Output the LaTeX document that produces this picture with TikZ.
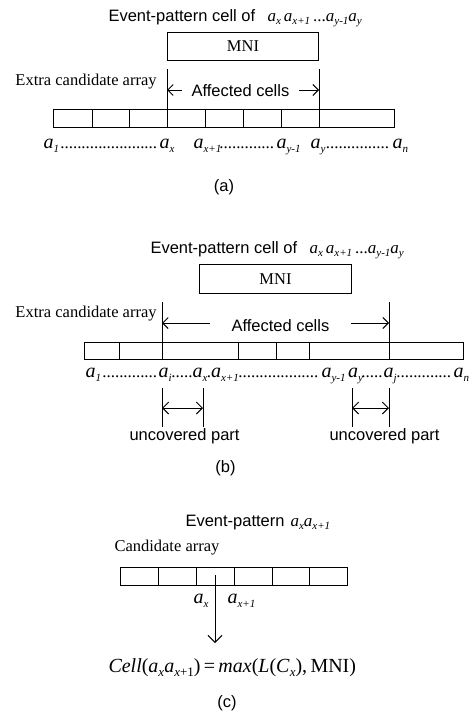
\documentclass[tikz,border=0pt]{standalone}
\usepackage{fontspec}
\setmainfont{Liberation Serif}
\newfontfamily\arialf{Liberation Sans}
\usetikzlibrary{arrows.meta}
\newcommand{\sbs}[1]{\raisebox{-3.5pt}{\fontsize{11}{11}\selectfont\itshape #1}}
\newcommand{\As}[1]{{\itshape a}\sbs{#1}}
\newcommand{\sbb}[1]{\raisebox{-4pt}{\fontsize{11}{11}\selectfont\itshape #1}}
\newcommand{\Ab}[1]{{\itshape a}\sbb{#1}}
\newcommand{\fsb}[1]{\raisebox{-4pt}{\fontsize{13}{13}\selectfont #1}}
\newcommand{\dd}[1]{{\fontsize{17}{20}\selectfont\hbox to #1pt{\leaders\hbox to 4.2pt{\hss.\hss}\hfill}}}
\tikzset{
  lab/.style={anchor=base west, inner sep=0pt, font=\fontsize{17}{20}\selectfont},
  big/.style={anchor=base west, inner sep=0pt, font=\fontsize{20}{24}\selectfont},
  serif/.style={anchor=base west, inner sep=0pt, font=\fontsize{16.5}{20}\selectfont},
  sans/.style={anchor=base west, inner sep=0pt, font=\fontsize{16.5}{20}\selectfont\arialf},
  capt/.style={anchor=base, inner sep=0pt, font=\fontsize{16.5}{20}\selectfont\arialf},
  mnibox/.style={draw, inner sep=0pt, anchor=north west, font=\fontsize{16.5}{20}\selectfont},
  arr/.style={-{Straight Barb[length=5.5pt,width=11pt]}},
  darr/.style={{Straight Barb[length=6pt,width=12pt]}-{Straight Barb[length=6pt,width=12pt]}},
  carr/.style={-{Straight Barb[length=7pt,width=14pt]}},
}
\begin{document}
\begin{tikzpicture}[x=1pt,y=-1pt,line width=1pt]
\useasboundingbox[fill=white] (0,0) rectangle (471,712);

% ---------------- (a) ----------------
\node[sans] (ta) at (108,21) {Event-pattern cell of};
\node[lab] (tax) at (267,21) {\As{x}\hspace{3pt}\As{x+1}\hspace{3pt}...\As{y-1}\As{y}};
\node[mnibox, minimum width=151pt, minimum height=28pt] (mnia) at (167,32) {MNI};
\node[serif] (eca) at (15,85) {Extra candidate array};
\coordinate (la1) at (167,69); \coordinate (la2) at (167,109);
\coordinate (ra1) at (319,69); \coordinate (ra2) at (319,109);
\draw (la1) -- (la2);
\draw (ra1) -- (ra2);
\node[sans] (afa) at (191,96) {Affected cells};
\coordinate (ala) at (182,90); \coordinate (ara) at (299,90);
\draw[arr] (ala) -- (la1 |- ala);
\draw[arr] (ara) -- (ra1 |- ara);
\draw (53,109) rectangle (394,127);
\foreach \x in {92,129,167,205,243,281,319} \draw (\x,109) -- (\x,127);
\node[big] (a1a) at (43,148) {\Ab{1}};
\node[big] (d1a) at (60,148) {\dd{98}};
\node[big] (axa) at (159,148) {\Ab{x}};
\node[big] (ax1a) at (193,148) {\Ab{x+1}};
\node[big] (d2a) at (219,148) {\dd{56}};
\node[big] (ay1a) at (276,148) {\Ab{y-1}};
\node[big] (aya) at (310,148) {\Ab{y}};
\node[big] (d3a) at (325.5,148) {\dd{66}};
\node[big] (ana) at (392,148) {\Ab{n}};
\node[capt] (capa) at (224,191) {(a)};

% ---------------- (b) ----------------
\node[sans] (tb) at (150,253) {Event-pattern cell of};
\node[lab] (tbx) at (309,253) {\As{x}\hspace{3pt}\As{x+1}\hspace{3pt}...\As{y-1}\As{y}};
\node[mnibox, minimum width=152pt, minimum height=29pt] (mnib) at (199,264) {MNI};
\node[serif] (ecb) at (15,317) {Extra candidate array};
\coordinate (lb1) at (162,302); \coordinate (lb2) at (162,342);
\coordinate (rb1) at (389,302); \coordinate (rb2) at (389,342);
\draw (lb1) -- (lb2);
\draw (rb1) -- (rb2);
\node[sans] (afb) at (231,331) {Affected cells};
\coordinate (alb) at (210,323); \coordinate (arb) at (351,323);
\draw[arr] (alb) -- (lb1 |- alb);
\draw[arr] (arb) -- (rb1 |- arb);
\draw (84,342) rectangle (463,359);
\foreach \x in {119,162,238,276,309,389} \draw (\x,342) -- (\x,359);
\node[big] (a1b) at (85,377) {\Ab{1}};
\node[big] (d1b) at (102,377) {\dd{56}};
\node[big] (aib) at (158,377) {\Ab{i}};
\node[big] (d2b) at (171,377) {\dd{21}};
\node[big] (axb) at (192,377) {\Ab{x}};
\node[lab] (dxb) at (206.3,377) {.};
\node[big] (ax1b) at (210.5,377) {\Ab{x+1}};
\node[big] (d3b) at (238,377) {\dd{83}};
\node[big] (ay1b) at (321,377) {\Ab{y-1}};
\node[big] (ayb) at (347.5,377) {\Ab{y}};
\node[big] (d4b) at (361,377) {\dd{21}};
\node[big] (ajb) at (383,377) {\Ab{j}};
\node[big] (d5b) at (396,377) {\dd{57}};
\node[big] (anb) at (453,377) {\Ab{n}};
\coordinate (u1t) at (162,388); \coordinate (u1b) at (162,427);
\coordinate (u2t) at (203,388); \coordinate (u2b) at (203,427);
\coordinate (u3t) at (352,388); \coordinate (u3b) at (352,427);
\coordinate (u4t) at (389,388); \coordinate (u4b) at (389,427);
\draw (u1t) -- (u1b); \draw (u2t) -- (u2b);
\draw (u3t) -- (u3b); \draw (u4t) -- (u4b);
\draw[darr] (162,408) -- (203,408);
\draw[darr] (352,408) -- (389,408);
\node[sans] (ucl) at (129,440) {uncovered part};
\node[sans] (ucr) at (329,440) {uncovered part};
\node[capt] (capb) at (225.5,472) {(b)};

% ---------------- (c) ----------------
\node[sans] (tc) at (185,526) {Event-pattern};
\node[lab] (tcx) at (290,526) {\As{x}\As{x+1}};
\node[serif] (cac) at (114,551) {Candidate array};
\draw (120,567) rectangle (347,585);
\foreach \x in {158,196,234,272,309} \draw (\x,567) -- (\x,585);
\coordinate (cs) at (215,575); \coordinate (ce) at (215,643);
\draw[carr] (cs) -- (ce);
\node[big] (axc) at (193,603) {\Ab{x}};
\node[big] (ax1c) at (227,603) {\Ab{x+1}};
\node[anchor=base west, inner sep=0pt, font=\fontsize{20}{24}\selectfont] (form) at (108,672)
  {\textit{Cell}(\textit{a}\fsb{\textit{x}}\textit{a}\fsb{\textit{x}+1})\,=\,\textit{max}(\textit{L}(\textit{C}\fsb{\textit{x}}),\,MNI)};
\node[capt] (capc) at (227,707) {(c)};
\end{tikzpicture}
\end{document}
